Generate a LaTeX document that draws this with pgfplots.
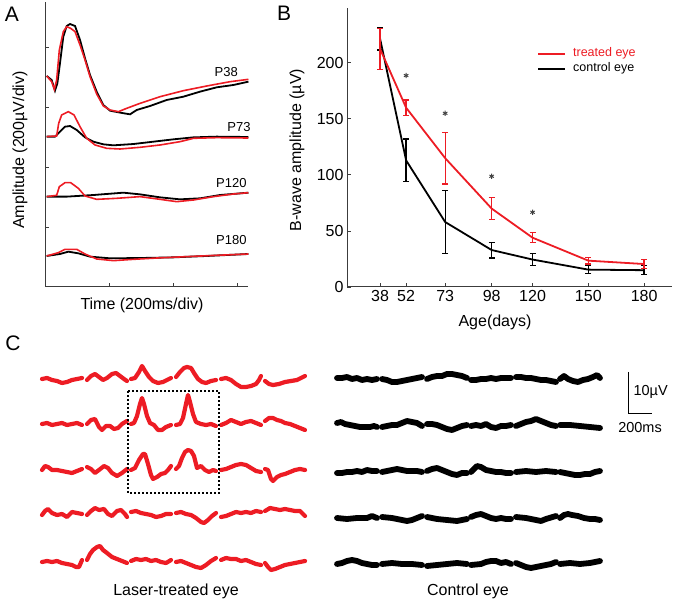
\documentclass[border=0pt]{standalone}
\usepackage{pgfplots}
\pgfplotsset{compat=1.18}
\usepackage{fontspec}
\setmainfont{Liberation Sans}
\definecolor{myred}{RGB}{237,28,36}
\definecolor{axgray}{RGB}{60,60,60}
\newcommand{\fs}[1]{\fontsize{#1}{#1}\selectfont}
\newcommand{\tr}[4]{\addplot[#1] table[row sep=\\, x expr=#2+\thisrowno{0}, y expr=-#3+\thisrowno{1}] {#4};}
\pgfplotsset{
  rtr/.style={myred, line width=4.2bp, line join=round, line cap=round},
  btr/.style={black, line width=5.8bp, line join=round, line cap=round},
}
\begin{document}
\begin{tikzpicture}
\useasboundingbox (0,0) rectangle (675bp,602bp);

% ---------------- Panel A ----------------
\begin{axis}[at={(45bp,315bp)}, anchor=south west, scale only axis,
  width=203bp, height=285bp, xmin=0, xmax=3.17, ymin=0, ymax=4.75,
  axis lines=left, axis line style={-, line width=1bp, axgray},
  xtick={1,2,3}, ytick={1,2,3,4}, xticklabels={}, yticklabels={},
  tick align=inside, major tick length=4bp, tick style={line width=0.9bp, axgray},
  clip=false]
\addplot[black, line width=1.8bp] coordinates {(0.026,3.517)(0.104,3.45)(0.156,3.272)(0.193,3.394)(0.234,3.728)(0.286,4.172)(0.339,4.35)(0.391,4.383)(0.469,4.35)(0.547,4.117)(0.625,3.811)(0.703,3.533)(0.807,3.256)(0.911,3.033)(1.016,2.939)(1.172,2.906)(1.328,2.878)(1.432,2.95)(1.641,3.017)(1.901,3.117)(2.161,3.172)(2.422,3.256)(2.682,3.328)(2.943,3.367)(3.177,3.422)};
\addplot[myred, line width=1.6bp] coordinates {(0.026,3.517)(0.104,3.422)(0.146,3.294)(0.182,3.45)(0.224,3.95)(0.286,4.256)(0.339,4.339)(0.401,4.311)(0.469,4.256)(0.547,4.033)(0.625,3.783)(0.703,3.506)(0.807,3.217)(0.911,3.017)(1.016,2.95)(1.146,2.922)(1.276,2.978)(1.484,3.061)(1.797,3.172)(2.161,3.272)(2.526,3.35)(2.891,3.422)(3.177,3.461)};
\addplot[black, line width=1.8bp] coordinates {(0.026,2.506)(0.156,2.506)(0.234,2.589)(0.313,2.672)(0.391,2.683)(0.495,2.617)(0.625,2.494)(0.755,2.422)(0.911,2.378)(1.068,2.361)(1.38,2.383)(1.693,2.422)(2.005,2.461)(2.318,2.494)(2.682,2.506)(3.177,2.5)};
\addplot[myred, line width=1.6bp] coordinates {(0.026,2.506)(0.182,2.517)(0.214,2.728)(0.26,2.867)(0.365,2.922)(0.453,2.867)(0.547,2.672)(0.651,2.478)(0.781,2.367)(0.964,2.311)(1.172,2.3)(1.484,2.328)(1.797,2.367)(2.109,2.422)(2.318,2.478)(2.682,2.489)(3.177,2.483)};
\addplot[black, line width=1.8bp] coordinates {(0.026,1.506)(0.339,1.506)(0.755,1.533)(1.224,1.572)(1.484,1.544)(1.797,1.494)(2.109,1.461)(2.422,1.478)(2.734,1.533)(3.177,1.572)};
\addplot[myred, line width=1.6bp] coordinates {(0.026,1.506)(0.182,1.528)(0.224,1.672)(0.313,1.739)(0.401,1.739)(0.521,1.644)(0.625,1.517)(0.807,1.461)(1.12,1.478)(1.484,1.506)(1.797,1.461)(2.057,1.422)(2.318,1.45)(2.63,1.506)(2.943,1.55)(3.177,1.572)};
\addplot[black, line width=1.8bp] coordinates {(0.026,0.517)(0.234,0.55)(0.365,0.589)(0.521,0.561)(0.703,0.506)(1.016,0.478)(1.484,0.483)(2.005,0.494)(2.526,0.517)(3.177,0.55)};
\addplot[myred, line width=1.6bp] coordinates {(0.026,0.517)(0.208,0.572)(0.313,0.628)(0.495,0.628)(0.625,0.55)(0.807,0.467)(1.068,0.439)(1.38,0.461)(1.745,0.483)(2.214,0.506)(2.682,0.528)(3.177,0.55)};
\node[font=\fs{13bp}] at (axis cs:2.83,3.58) {P38};
\node[font=\fs{13bp}] at (axis cs:3.03,2.67) {P73};
\node[font=\fs{13bp}] at (axis cs:2.91,1.73) {P120};
\node[font=\fs{13bp}] at (axis cs:2.91,0.78) {P180};
\end{axis}
\node[font=\fs{16bp}, rotate=90] at (20bp,452bp) {Amplitude (200µV/div)};
\node[font=\fs{16bp}] at (142bp,297bp) {Time (200ms/div)};
\node[font=\fs{21bp}] at (12bp,588bp) {A};

% ---------------- Panel B ----------------
\begin{axis}[at={(347bp,315bp)}, anchor=south west, scale only axis,
  width=325bp, height=279bp, xmin=20.2, xmax=195, ymin=0, ymax=249,
  axis lines=left, axis line style={-, line width=1bp, axgray},
  xtick={38,52,73,98,120,150,180}, ytick={0,50,100,150,200},
  tick align=inside, major tick length=3.5bp, tick style={line width=0.9bp, axgray},
  /pgf/number format/assume math mode=true,
  ticklabel style={font=\fs{16bp}},
  legend style={at={(0.585,0.862)}, anchor=north west, draw=none, fill=none,
    inner sep=0pt, font=\fs{12.5bp},
    nodes={inner sep=1bp, text height=9bp, text depth=3bp}, row sep=1bp,
    /tikz/every odd column/.append style={column sep=6bp}},
  legend cell align=left,
  legend image code/.code={\draw[#1] (0bp,0bp) -- (27bp,0bp);},
  clip=false]
\addlegendimage{myred, line width=1.8bp}
\addlegendentry{\textcolor{myred}{treated eye}}
\addlegendimage{black, line width=1.8bp}
\addlegendentry{control eye}
\addplot[black, line width=1.8bp, forget plot,
  error bars/.cd, y dir=both, y explicit,
  error bar style={line width=1.3bp},
  error mark options={rotate=90, mark size=3bp, line width=1.3bp}]
  coordinates {(38,221.5) +- (0,10) (52,113) +- (0,19) (73,58) +- (0,28) (98,33) +- (0,7) (120,24.5) +- (0,5.5) (150,15.5) +- (0,3.5) (180,15) +- (0,4)};
\addplot[myred, line width=1.8bp, forget plot,
  error bars/.cd, y dir=both, y explicit,
  error bar style={line width=1.3bp},
  error mark options={rotate=90, mark size=3bp, line width=1.3bp}]
  coordinates {(38,212.5) +- (0,18.5) (52,160) +- (0,7) (73,115) +- (0,23) (98,70) +- (0,10) (120,44) +- (0,4.5) (150,23.5) +- (0,3) (180,20.5) +- (0,4)};
\addplot[only marks, mark=asterisk, mark size=2.6bp, black!75, mark options={line width=0.9bp}, forget plot]
  coordinates {(52,188.7) (73,155) (98,98.8) (120,66.7)};
\end{axis}
\node[font=\fs{16bp}, rotate=90] at (297bp,452bp) {B-wave amplitude (µV)};
\node[font=\fs{16bp}] at (495bp,280bp) {Age(days)};
\node[font=\fs{21bp}] at (284bp,589bp) {B};

% ---------------- Panel C ----------------
\begin{axis}[at={(0bp,0bp)}, anchor=south west, scale only axis,
  width=675bp, height=282bp, xmin=0, xmax=675, ymin=-602, ymax=-320,
  hide axis, clip=false]
% red, row 1
\tr{rtr}{42}{380}{0 1\\5 2\\10 0\\15 -1\\20 -3\\25 -2\\30 0\\35 1\\40 2\\}
\tr{rtr}{87}{380}{0 0\\4 4\\8 6\\12 3\\16 0\\20 2\\25 6\\29 7\\33 4\\37 1\\40 -1\\}
\tr{rtr}{131}{380}{0 1\\4 2\\8 8\\11 14\\14 9\\18 3\\22 -1\\27 -3\\32 -2\\36 0\\40 2\\}
\tr{rtr}{176}{380}{0 3\\4 8\\8 12\\11 13\\15 12\\18 7\\22 1\\26 -2\\30 -3\\35 -1\\40 0\\}
\tr{rtr}{221}{380}{0 1\\5 2\\10 0\\15 -4\\20 -7\\25 -7\\30 -6\\35 -4\\38 0\\40 4\\}
\tr{rtr}{265}{380}{0 -1\\4 -4\\8 -5\\14 -4\\20 -2\\26 -1\\32 0\\36 2\\40 4\\}
% red, row 2
\tr{rtr}{42}{424}{0 0\\5 1\\10 -1\\15 0\\20 1\\25 -1\\30 0\\35 1\\40 -1\\}
\tr{rtr}{87}{424}{0 0\\4 4\\8 5\\12 -3\\15 -6\\19 -2\\23 -2\\27 -5\\31 -4\\35 0\\40 3\\}
\tr{rtr}{131}{424}{0 0\\3 1\\6 8\\9 20\\11 26\\13 20\\16 8\\19 1\\23 -1\\27 -6\\31 -6\\35 -3\\40 -1\\}
\tr{rtr}{176}{424}{0 -1\\4 0\\7 6\\10 20\\12 29\\14 22\\17 10\\20 2\\25 0\\30 -1\\35 0\\40 -2\\}
\tr{rtr}{221}{424}{0 -1\\5 1\\10 4\\15 2\\20 0\\25 2\\30 3\\35 1\\40 -1\\}
\tr{rtr}{265}{424}{0 3\\4 6\\8 6\\12 4\\16 3\\20 1\\25 0\\30 -2\\35 -4\\40 -6\\}
% red, row 3
\tr{rtr}{42}{470}{0 0\\3 4\\6 3\\10 0\\15 0\\20 -1\\25 -2\\30 -3\\35 -1\\40 1\\}
\tr{rtr}{87}{470}{0 3\\4 1\\8 -3\\12 0\\17 4\\21 2\\25 -3\\30 -6\\35 -3\\40 1\\}
\tr{rtr}{131}{470}{0 0\\4 2\\8 10\\12 16\\14 16\\17 6\\20 -5\\22 -9\\26 -7\\30 -4\\34 -3\\37 0\\40 4\\}
\tr{rtr}{176}{470}{0 1\\3 4\\6 12\\9 18\\12 20\\15 19\\18 14\\21 2\\25 4\\29 0\\33 -2\\37 0\\40 -1\\}
\tr{rtr}{221}{470}{0 0\\5 1\\10 3\\15 5\\20 6\\25 5\\30 2\\35 -1\\40 -2\\}
\tr{rtr}{265}{470}{0 1\\3 0\\6 -9\\8 -11\\12 -7\\16 -5\\20 -4\\25 -2\\30 0\\35 1\\40 0\\}
% red, row 4
\tr{rtr}{42}{514}{0 -1\\3 3\\6 5\\10 1\\15 -1\\20 0\\25 -3\\30 2\\35 1\\40 0\\}
\tr{rtr}{87}{514}{0 -1\\4 3\\8 6\\12 4\\17 5\\21 0\\25 -2\\30 3\\34 4\\38 0\\40 -3\\}
\tr{rtr}{131}{514}{0 2\\5 3\\10 1\\15 0\\20 -1\\25 -3\\30 -2\\35 0\\40 0\\}
\tr{rtr}{176}{514}{0 1\\5 2\\10 0\\15 -1\\20 -4\\25 -8\\28 -9\\32 -6\\36 -2\\40 1\\}
\tr{rtr}{221}{514}{0 -3\\5 -2\\10 0\\15 2\\20 1\\25 2\\30 1\\35 3\\40 2\\}
\tr{rtr}{265}{514}{0 3\\5 6\\10 5\\15 4\\20 5\\25 4\\30 3\\35 3\\40 -2\\}
% red, row 5
\tr{rtr}{42}{562}{0 0\\5 1\\10 0\\15 1\\20 -1\\25 -2\\30 -3\\34 -5\\37 -5\\40 2\\}
\tr{rtr}{87}{562}{0 2\\3 8\\6 12\\10 15\\13 16\\16 12\\20 9\\25 5\\30 3\\35 1\\40 -1\\}
\tr{rtr}{131}{562}{0 1\\5 3\\10 2\\15 3\\20 1\\25 2\\30 0\\35 -1\\40 2\\}
\tr{rtr}{176}{562}{0 0\\5 1\\10 -1\\15 -3\\20 -5\\25 -6\\30 -3\\35 1\\40 4\\}
\tr{rtr}{221}{562}{0 2\\5 4\\10 3\\15 3\\20 1\\25 2\\30 0\\35 -2\\40 -3\\}
\tr{rtr}{265}{562}{0 -1\\3 -5\\6 -8\\10 -7\\15 -5\\20 -3\\25 -2\\30 -1\\35 0\\40 1\\}
% black, row 1
\tr{btr}{337}{379}{0 1\\5 1\\10 2\\15 0\\20 1\\25 -1\\30 0\\35 -1\\40 0\\}
\tr{btr}{382}{379}{0 0\\5 -1\\10 -3\\15 -3\\20 -2\\25 -1\\30 0\\35 1\\40 2\\}
\tr{btr}{427}{379}{0 0\\5 2\\10 3\\15 3\\20 5\\25 5\\30 4\\35 3\\40 1\\}
\tr{btr}{471}{379}{0 -1\\5 -1\\10 0\\15 0\\20 1\\25 0\\30 1\\35 1\\40 1\\}
\tr{btr}{516}{379}{0 2\\5 2\\10 1\\15 1\\20 0\\25 -1\\30 -1\\35 -2\\40 -3\\}
\tr{btr}{560}{379}{0 0\\4 3\\8 0\\13 -2\\18 -3\\23 -1\\28 0\\33 2\\37 4\\40 1\\}
% black, row 2
\tr{btr}{337}{425}{0 2\\4 3\\8 1\\13 0\\18 -1\\23 -2\\28 -2\\33 -2\\37 -1\\40 -2\\}
\tr{btr}{382}{425}{0 -2\\5 -1\\10 0\\15 0\\20 2\\25 4\\30 3\\35 2\\40 -1\\}
\tr{btr}{427}{425}{0 1\\5 1\\10 0\\15 -2\\20 -4\\25 -5\\30 -3\\35 -1\\40 0\\}
\tr{btr}{471}{425}{0 -1\\5 0\\10 -1\\15 1\\20 -2\\25 -3\\30 -1\\35 -1\\40 0\\}
\tr{btr}{516}{425}{0 -1\\5 1\\10 3\\15 4\\20 6\\25 4\\30 2\\35 0\\40 -1\\}
\tr{btr}{560}{425}{0 0\\10 0\\20 -1\\30 -2\\40 -3\\}
% black, row 3
\tr{btr}{337}{472}{0 -1\\5 -1\\10 0\\15 0\\20 1\\25 0\\30 2\\35 1\\40 1\\}
\tr{btr}{382}{472}{0 0\\5 1\\10 2\\15 3\\20 2\\25 1\\30 1\\35 1\\40 0\\}
\tr{btr}{427}{472}{0 1\\5 3\\10 4\\15 2\\20 0\\25 -2\\30 -3\\35 -1\\40 -1\\}
\tr{btr}{471}{472}{0 0\\3 3\\6 6\\10 5\\15 2\\20 1\\25 0\\30 0\\35 -1\\40 -1\\}
\tr{btr}{516}{472}{0 0\\10 1\\20 0\\30 1\\40 0\\}
\tr{btr}{560}{472}{0 0\\5 -1\\10 -2\\15 -3\\20 -3\\25 -2\\30 -2\\35 0\\40 1\\}
% black, row 4
\tr{btr}{337}{518}{0 0\\10 -1\\20 0\\30 0\\35 2\\40 0\\}
\tr{btr}{382}{518}{0 1\\10 0\\20 -2\\25 -3\\30 -2\\35 0\\40 2\\}
\tr{btr}{427}{518}{0 1\\10 -1\\20 -2\\30 -3\\40 -1\\}
\tr{btr}{471}{518}{0 1\\5 3\\10 4\\15 2\\20 0\\25 -1\\30 0\\35 -1\\40 -1\\}
\tr{btr}{516}{518}{0 1\\10 0\\20 -2\\25 -3\\30 -1\\40 2\\}
\tr{btr}{560}{518}{0 0\\4 3\\8 4\\12 3\\18 2\\24 0\\30 -1\\35 -1\\40 -2\\}
% black, row 5
\tr{btr}{337}{564}{0 0\\5 1\\10 3\\15 4\\20 3\\25 1\\30 0\\35 -1\\40 -1\\}
\tr{btr}{382}{564}{0 0\\10 1\\20 0\\30 0\\40 -1\\}
\tr{btr}{427}{564}{0 -2\\10 -1\\20 0\\30 1\\40 0\\}
\tr{btr}{471}{564}{0 -1\\10 0\\15 2\\20 3\\25 3\\30 1\\35 2\\40 0\\}
\tr{btr}{516}{564}{0 1\\5 -1\\10 -3\\15 -4\\20 -3\\25 -2\\30 -1\\35 0\\40 2\\}
\tr{btr}{560}{564}{0 0\\10 1\\20 0\\30 1\\40 3\\}
% dotted box and scale bar
\draw[black, line width=1.6bp, dash pattern=on 1.6bp off 2.4bp] (axis cs:128,-391) rectangle (axis cs:219,-493);
\draw[black, line width=1bp] (axis cs:628,-372) -- (axis cs:628,-414) -- (axis cs:652,-414);
\node[font=\fs{14.5bp}, anchor=west] at (axis cs:630,-392) {10µV};
\node[font=\fs{14.5bp}] at (axis cs:640,-428) {200ms};
\node[font=\fs{16bp}] at (axis cs:176,-591) {Laser-treated eye};
\node[font=\fs{16bp}] at (axis cs:468,-591) {Control eye};
\end{axis}
\node[font=\fs{21bp}] at (13bp,259bp) {C};
\end{tikzpicture}
\end{document}
